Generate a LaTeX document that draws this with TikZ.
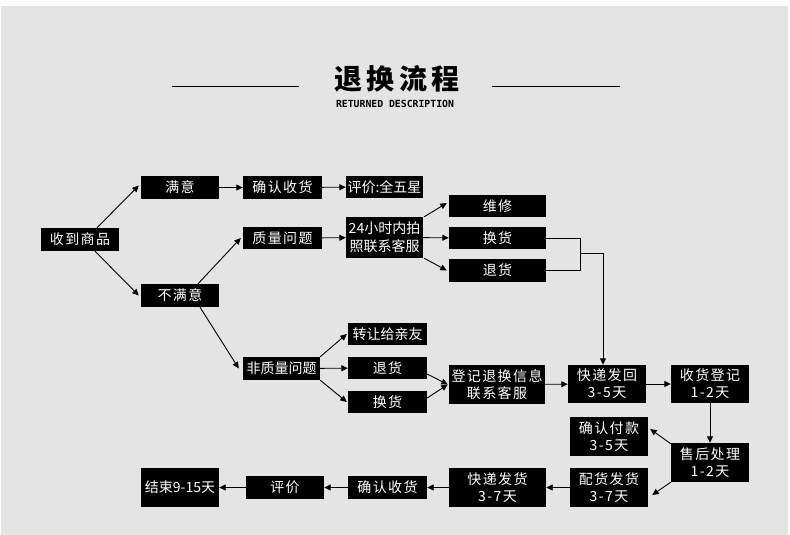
\documentclass[tikz,border=0pt]{standalone}
\usepackage{fontspec}
\usetikzlibrary{arrows.meta}
\newfontfamily\cjk{Noto Sans CJK SC}
\newfontfamily\cjksp[LetterSpace=10]{Noto Sans CJK SC}
\newfontfamily\cjktitle[LetterSpace=15]{Noto Sans CJK SC}
\newfontfamily\monob{DejaVu Sans Mono}
\definecolor{bggray}{HTML}{E4E4E4}
\begin{document}
\begin{tikzpicture}[x=1pt,y=-1pt,
  box/.style={fill=black,text=white,inner sep=0pt,align=center,
    font=\cjksp\fontsize{14}{17}\selectfont},
  arr/.style={draw=black,line width=0.9pt,-{Triangle[length=6.5pt,width=6pt]}},
  ln/.style={draw=black,line width=0.9pt}]
\useasboundingbox (0,0) rectangle (790,535);
\fill[white] (0,0) rectangle (790,535);
\fill[bggray] (1,6) rectangle (788,535);

% title
\node[font=\cjktitle\bfseries\fontsize{28}{30}\selectfont] (title) at (397,79) {退换流程};
\node[font=\monob\bfseries\fontsize{9.8}{10}\selectfont] (sub) at (395,104) {RETURNED DESCRIPTION};
\draw[ln] (172,86) -- (299,86);
\draw[ln] (492,86) -- (620,86);

% boxes
\node[box,minimum width=78pt,minimum height=23pt] (recv) at (80,239.5) {收到商品};
\node[box,minimum width=78pt,minimum height=23pt] (sat) at (180,187.5) {满意};
\node[box,minimum width=79pt,minimum height=23pt] (qr1) at (282.5,187.5) {确认收货};
\node[box,minimum width=77pt,minimum height=22pt,font=\cjk\fontsize{14}{17}\selectfont] (eval5) at (384.5,187) {评价:全五星};
\node[box,minimum width=78pt,minimum height=23pt] (unsat) at (180,295.5) {不满意};
\node[box,minimum width=79pt,minimum height=22pt] (qual) at (282.5,238) {质量问题};
\node[box,minimum width=77pt,minimum height=41pt,font=\cjk\fontsize{14}{18}\selectfont] (h24) at (384.5,237.5) {24小时内拍\\照联系客服};
\node[box,minimum width=97pt,minimum height=22pt] (fix) at (497.5,206) {维修};
\node[box,minimum width=97pt,minimum height=22pt] (hh1) at (497.5,238) {换货};
\node[box,minimum width=97pt,minimum height=23pt] (th1) at (497.5,270.5) {退货};
\node[box,minimum width=77pt,minimum height=23pt,font=\cjk\fontsize{14}{17}\selectfont] (nq) at (281.5,368.5) {非质量问题};
\node[box,minimum width=79pt,minimum height=22pt,font=\cjk\fontsize{14}{17}\selectfont] (zr) at (387.5,334) {转让给亲友};
\node[box,minimum width=79pt,minimum height=22pt] (th2) at (387.5,368) {退货};
\node[box,minimum width=79pt,minimum height=22pt] (hh2) at (387.5,402) {换货};
\node[box,minimum width=96pt,minimum height=39pt] (dj) at (497,384.5) {登记退换信息\\联系客服};
\node[box,minimum width=78pt,minimum height=38pt] (kdfh) at (607,384) {快递发回\\3-5天};
\node[box,minimum width=78pt,minimum height=38pt] (shdj) at (710,384) {收货登记\\1-2天};
\node[box,minimum width=78pt,minimum height=39pt] (qrfk) at (609,436.5) {确认付款\\3-5天};
\node[box,minimum width=78pt,minimum height=39pt] (shcl) at (710,462.5) {售后处理\\1-2天};
\node[box,minimum width=78pt,minimum height=39pt] (phfh) at (609,487.5) {配货发货\\3-7天};
\node[box,minimum width=97pt,minimum height=39pt] (kdfh2) at (497.5,487.5) {快递发货\\3-7天};
\node[box,minimum width=79pt,minimum height=23pt] (qr2) at (387.5,487.5) {确认收货};
\node[box,minimum width=78pt,minimum height=23pt] (pj) at (285,487.5) {评价};
\node[box,minimum width=78pt,minimum height=39pt,font=\cjk\fontsize{14}{17}\selectfont] (end) at (180,487.5) {结束9-15天};

% connectors
\draw[arr] ([xshift=17pt]recv.north) -- ([xshift=-2pt,yshift=2pt]sat.west);
\draw[arr] ([xshift=15pt]recv.south) -- ([xshift=-2pt]unsat.west);
\draw[arr] (sat) -- (qr1);
\draw[arr] (qr1) -- (eval5);
\draw[arr] ([xshift=18pt]unsat.north) -- ([xshift=-2pt]qual.west);
\draw[arr] ([xshift=20pt]unsat.south) -- ([xshift=-4pt]nq.west);
\draw[arr] (qual) -- (h24);
\draw[arr] ([xshift=1pt]h24.north east) -- ([xshift=-2pt,yshift=3pt]fix.west);
\draw[arr] (h24) -- (hh1);
\draw[arr] ([xshift=1pt]h24.south east) -- ([xshift=-2pt]th1.west);
\coordinate (j1) at (580,238);
\coordinate (j2) at (580,270.5);
\coordinate (jm) at (580,253.5);
\coordinate (jt) at (603,253.5);
\draw[ln] (hh1.east) -- (j1) -- (j2) -- (th1.east);
\draw[arr] (jm) -- (jt) -- (jt |- kdfh.north);
\draw[arr] (nq.north east) -- ([xshift=-1pt]zr.west);
\draw[arr] (nq) -- (th2);
\draw[arr] (nq.south east) -- ([xshift=-1pt]hh2.west);
\draw[arr] ([yshift=-6pt]th2.east) -- ([xshift=-1pt]dj.west);
\draw[arr] ([yshift=4pt]hh2.east) -- ([xshift=-1pt]dj.west);
\draw[arr] (dj) -- (kdfh);
\draw[arr] (kdfh) -- (shdj);
\draw[arr] (shdj) -- (shcl);
\draw[arr] ([yshift=-1pt]shcl.north west) -- ([xshift=2pt,yshift=7.5pt]qrfk.east);
\draw[arr] (shcl.south west) -- ([xshift=4pt,yshift=-7.5pt]phfh.east);
\draw[arr] (phfh) -- (kdfh2);
\draw[arr] (kdfh2) -- (qr2);
\draw[arr] (qr2) -- (pj);
\draw[arr] (pj) -- (end);
\end{tikzpicture}
\end{document}
